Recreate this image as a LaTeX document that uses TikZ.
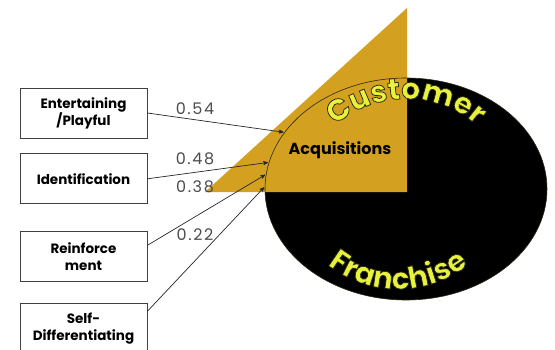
\documentclass[tikz,border=0pt]{standalone}
\usepackage{fontspec}
\setmainfont{Poppins}
\newfontfamily\archfont[FakeBold=2.5]{Poppins Bold}
\newfontfamily\numfont[LetterSpace=10]{Poppins}
\usepackage{tikz}
\usetikzlibrary{arrows,positioning,shapes.geometric,decorations.text}

\definecolor{gold}{RGB}{212,160,32}
\definecolor{archyellow}{RGB}{232,242,60}
\definecolor{rim}{RGB}{40,40,20}
% yellow fill with a dark stroke for the emboldened arch letters
\newcommand\archstyle{\archfont\fontsize{30}{30}\selectfont\color{archyellow}\special{pdf:code 0.16 0.16 0.08 RG}}

\tikzset{
  factor/.style={draw=black!75, line width=0.8pt, minimum width=127pt,
    minimum height=50pt, inner sep=0pt, align=center,
    font=\bfseries\fontsize{13.5}{17}\selectfont},
  weight/.style={text=black!70, font=\numfont\fontsize{16}{16}\selectfont},
}

\begin{document}
\begin{tikzpicture}[x=1pt,y=1pt,>=stealth',shorten >=1pt]
    \useasboundingbox (0,0) rectangle (555,349);

    % franchise disc and acquisition wedge
    \node[ellipse, fill=black, minimum width=282pt, minimum height=222pt,
          inner sep=0pt] (franchise) at (406,160) {};
    \fill[gold] (205,157) -- (407,157) -- (407,341) -- cycle;
    \draw[rim, line width=0.6pt] (franchise.center) ellipse [x radius=141, y radius=111];
    \node[font=\bfseries\fontsize{16}{16}\selectfont] (acq) at (340,199) {Acquisitions};

    \path[decorate, decoration={text along path, text align=center,
        text={|\archstyle|Customer}}]
        (franchise.center) ++(160:100 and 90) arc[start angle=160, end angle=20, x radius=100, y radius=90];
    \path[decorate, decoration={text along path, text align=center,
        text={|\archstyle|Franchise}}]
        (franchise.center) ++(-8,0) ++(200:108 and 100) arc[start angle=200, end angle=340, x radius=108, y radius=100];

    % drivers
    \node[factor] (ent) at (83.5,236) {Entertaining\\/Playful};
    \node[factor] (ident) [below=15pt of ent] {Identification};
    \node[factor] (reinf) [below=27pt of ident] {Reinforce\\ment};
    \node[factor] (selfd) [below=21pt of reinf] {Self-\\Differentiating};

    \node[weight] (w54) at (195,240) {0.54};
    \node[weight] (w48) at (195,190) {0.48};
    \node[weight] (w38) at (195,162) {0.38};
    \node[weight] (w22) at (195,114) {0.22};

    \path[->, black!85, line width=0.7pt]
        (ent.east)   edge (franchise.155)
        (ident.east) edge (franchise.169)
        (reinf.10)   edge (franchise.174)
        (selfd.15)   edge (franchise.179);
\end{tikzpicture}
\end{document}
